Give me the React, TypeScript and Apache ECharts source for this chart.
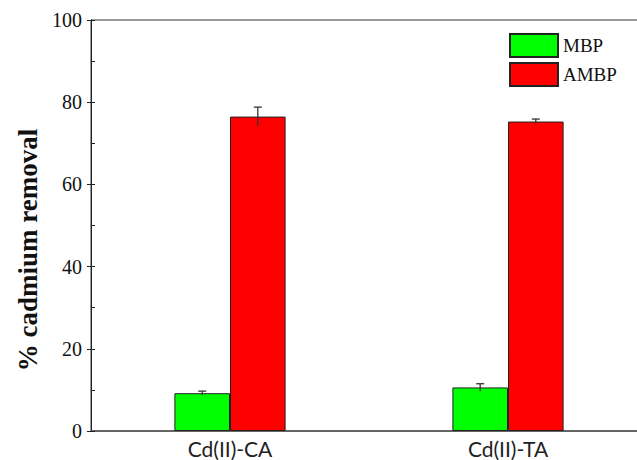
import React, { useEffect, useRef } from "react";
import * as echarts from "echarts";

const categories = ["Cd(II)-CA", "Cd(II)-TA"];
const seriesNames = ["MBP", "AMBP"];
const mbpValues = [9.2, 10.6];
const mbpErrors = [0.5, 0.9];
const ambpValues = [76.5, 75.3];
const ambpErrors = [2.3, 0.6];
const yTicks = [0, 20, 40, 60, 80, 100];
const yTitle = "% cadmium removal";

const colors = ["#00ff00", "#ff0000"];

export default function App() {
  const ref = useRef<HTMLDivElement>(null);
  useEffect(() => {
    if (!ref.current) return;
    const chart = echarts.init(ref.current, undefined, { renderer: "svg" });
    const errorSeries = (values: number[], errs: number[], side: number) => ({
      type: "custom",
      silent: true,
      z: 10,
      data: values.map((v, i) => [i, v, errs[i]]),
      encode: { x: 0, y: 1 },
      renderItem: (params: any, api: any) => {
        const idx = api.value(0);
        const v = api.value(1);
        const e = api.value(2);
        const band = api.size([1, 0])[0];
        const top = api.coord([idx, v + e]);
        const bot = api.coord([idx, v - e]);
        const x = top[0] + side * band * 0.1;
        const style = { stroke: "#333", lineWidth: 1.3 };
        return {
          type: "group",
          children: [
            { type: "line", shape: { x1: x, y1: top[1], x2: x, y2: bot[1] }, style },
            { type: "line", shape: { x1: x - 4, y1: top[1], x2: x + 4, y2: top[1] }, style },
          ],
        };
      },
    });
    chart.setOption({
      animation: false,
      backgroundColor: "#ffffff",
      grid: {
        left: 91,
        top: 20,
        width: 556,
        height: 411,
        outerBoundsMode: "none",
        containLabel: false,
        show: true,
        borderColor: "#333",
        borderWidth: 1,
        backgroundColor: "transparent",
      },
      legend: {
        data: seriesNames.map((n) => ({ name: n, icon: "rect" })),
        orient: "vertical",
        left: 509,
        top: 33,
        padding: 0,
        itemWidth: 48,
        itemHeight: 23,
        itemGap: 4,
        textStyle: { fontFamily: "Liberation Serif", fontSize: 19, color: "#111" },
      },
      xAxis: {
        type: "category",
        data: categories,
        axisLine: { show: true, lineStyle: { color: "#555", width: 1.5 } },
        axisTick: { show: false },
        axisLabel: { fontFamily: "Lato", fontSize: 21, color: "#222", margin: 7 },
      },
      yAxis: [
        {
          type: "value",
          min: 0,
          max: 100,
          interval: 20,
          axisLine: { show: true, lineStyle: { color: "#222", width: 1 } },
          axisTick: { show: true, inside: false, length: 4, lineStyle: { color: "#222" } },
          axisLabel: {
            fontFamily: "Liberation Serif",
            fontSize: 20,
            color: "#111",
            margin: 9,
            formatter: (v: number) => (yTicks.includes(v) ? String(v) : ""),
          },
          splitLine: { show: false },
        },
        {
          type: "value",
          position: "left",
          min: 0,
          max: 100,
          interval: 10,
          axisLine: { show: false },
          axisTick: { show: true, inside: true, length: 4, lineStyle: { color: "#222" } },
          axisLabel: { show: false },
          splitLine: { show: false },
        },
      ],
      graphic: [
        {
          type: "text",
          x: 28,
          y: 250,
          rotation: Math.PI / 2,
          style: {
            text: yTitle,
            font: "bold 27px 'Liberation Serif'",
            fill: "#111",
            align: "center",
            verticalAlign: "middle",
          },
        },
      ],
      series: [
        {
          name: seriesNames[0],
          type: "bar",
          data: mbpValues,
          barWidth: "20%",
          barGap: "0%",
          itemStyle: { color: colors[0], borderColor: "#222", borderWidth: 1 },
        },
        {
          name: seriesNames[1],
          type: "bar",
          data: ambpValues,
          barWidth: "20%",
          barGap: "0%",
          itemStyle: { color: colors[1], borderColor: "#222", borderWidth: 1 },
        },
        errorSeries(mbpValues, mbpErrors, -1),
        errorSeries(ambpValues, ambpErrors, 1),
      ],
    });
    return () => chart.dispose();
  }, []);
  return (
    <div style={{ position: "fixed", left: 0, top: 0, width: 637, height: 460, overflow: "hidden", background: "#fff" }}>
      <div ref={ref} style={{ width: 700, height: 460 }} />
    </div>
  );
}
